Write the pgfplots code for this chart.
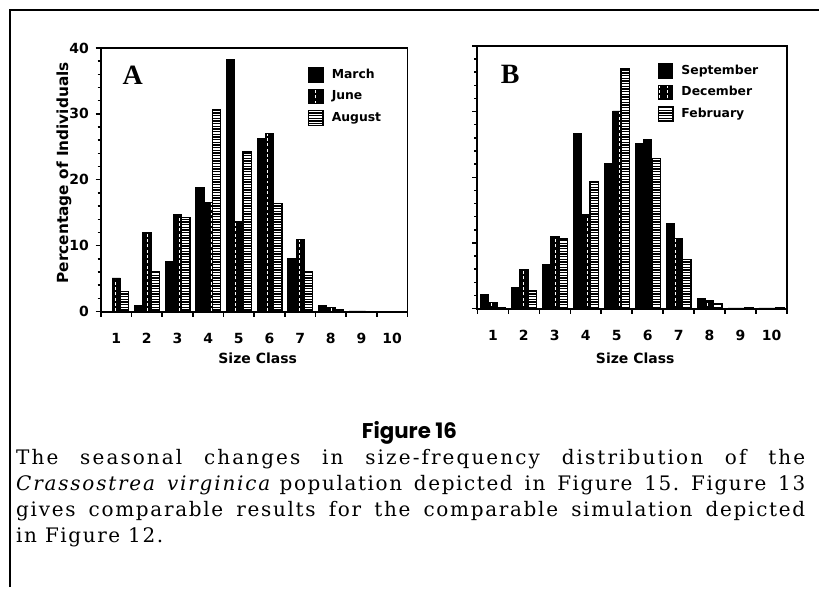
\documentclass[border=0pt]{standalone}
\usepackage{fontspec}
\setmainfont{DejaVu Sans}
\newfontfamily\chartfont{DejaVu Sans}
\newfontfamily\panelfont{Liberation Serif}
\newfontfamily\capfont{DejaVu Serif}
\newfontfamily\figfont{Poppins}
\usepackage{pgfplots}
\pgfplotsset{compat=1.18}
\usetikzlibrary{patterns}

\pgfdeclarepatternformonly{vdash}{\pgfqpoint{-1pt}{-1pt}}{\pgfqpoint{7pt}{5pt}}{\pgfqpoint{6pt}{4pt}}{%
  \pgfsetlinewidth{0.7pt}\pgfpathmoveto{\pgfqpoint{3pt}{0pt}}\pgfpathlineto{\pgfqpoint{3pt}{2.2pt}}\pgfusepath{stroke}}
\pgfdeclarepatternformonly{hdense}{\pgfqpoint{-1pt}{-1pt}}{\pgfqpoint{3pt}{3pt}}{\pgfqpoint{2pt}{2pt}}{%
  \pgfsetlinewidth{1pt}\pgfpathmoveto{\pgfqpoint{-1pt}{1pt}}\pgfpathlineto{\pgfqpoint{3pt}{1pt}}\pgfusepath{stroke}}

\pgfplotstableread{
cls March June August
1 0.0  5.1  3.0
2 1.0  12.0 6.1
3 7.6  14.8 14.3
4 18.8 16.5 30.7
5 38.3 13.7 24.2
6 26.3 27.0 16.4
7 8.1  11.0 6.1
8 0.9  0.6  0.3
9 0.1  0.1  0.05
10 0.05 0.05 0.0
}\dataA
\pgfplotstableread{
cls September December February
1 2.1  1.0  0.2
2 3.2  5.9  2.7
3 6.7  11.0 10.6
4 26.7 14.3 19.4
5 22.1 30.1 36.5
6 25.1 25.8 22.9
7 12.9 10.7 7.5
8 1.6  1.3  0.8
9 0.1  0.1  0.1
10 0.1 0.1  0.1
}\dataB

\pgfplotsset{
  s1/.style={fill=black, draw=black, line width=0.6pt},
  s2/.style={fill=black, draw=black, line width=0.6pt, postaction={pattern=vdash, pattern color=white}},
  s3/.style={draw=black, line width=1pt, pattern=hdense, pattern color=black},
  panel/.style={
    scale only axis,
    anchor=south west,
    xmin=0.5, xmax=10.5, ymin=0, ymax=40,
    xtick={0.5,1.5,...,10.5}, xticklabels={},
    extra x ticks={1,2,...,10},
    extra x tick labels={1,2,3,4,5,6,7,8,9,10},
    extra x tick style={tick style={draw=none}, tick label style={yshift=-9pt}},
    ytick={0,10,20,30,40}, minor y tick num=4,
    tick align=outside, xtick pos=bottom, ytick pos=left,
    major tick length=4pt, minor tick length=2.5pt,
    tick style={line width=1.1pt, black},
    axis line style={line width=1.4pt},
    /pgf/number format/assume math mode=true,
    tick label style={font=\chartfont\bfseries\fontsize{10.5}{12}\selectfont},
    yticklabel style={xshift=-1.5pt},
    ybar, bar width=0.27,
    legend cell align=left,
    legend image code/.code={\draw[##1] (0pt,-5.5pt) rectangle (11pt,5.5pt);},
    legend style={draw=none, fill=none, inner sep=0pt, row sep=4.5pt, column sep=5pt,
      font=\chartfont\bfseries\fontsize{9.3}{11}\selectfont,
      nodes={inner sep=1pt, text height=7pt, text depth=2pt}},
  }
}

\begin{document}
\begin{tikzpicture}
\begin{scope}[x=0.75pt,y=0.75pt]
\path (0,0) rectangle (820,588);
\draw[line width=1.6pt] (10,0) -- (10,578) -- (820,578);
\node[rotate=90, font=\chartfont\bfseries\fontsize{11.5}{13}\selectfont] at (64,415) {Percentage of Individuals};
\node[font=\chartfont\bfseries\fontsize{10.5}{12}\selectfont] at (258,229) {Size Class};
\node[font=\chartfont\bfseries\fontsize{10.5}{12}\selectfont] at (636,229) {Size Class};
\node[font=\figfont\bfseries\fontsize{16}{18}\selectfont] at (410,155) {Figure 16};
\node[anchor=base west, inner sep=0pt, font=\capfont\fontsize{15}{19.5}\selectfont] at (16,123) {%
  \begin{minipage}[t]{592.5pt}\frenchspacing\setlength{\baselineskip}{19.5pt}%
  \makebox[592.5pt][s]{\addfontfeatures{LetterSpace=10.5}The seasonal changes in size-frequency distribution of the}\\
  \makebox[592.5pt][s]{{\itshape\addfontfeatures{LetterSpace=9}Crassostrea virginica} {\addfontfeatures{LetterSpace=8}population depicted in Figure 15. Figure 13}}\\
  \makebox[592.5pt][s]{\addfontfeatures{LetterSpace=8.5}gives comparable results for the comparable simulation depicted}\\
  {\addfontfeatures{LetterSpace=8}in Figure 12.}
  \end{minipage}};
\end{scope}

\begin{axis}[panel, at={(75.75pt,207pt)}, width=230.25pt, height=198pt,
  legend style={at={(rel axis cs:0.674,0.928)}, anchor=north west}]
\addplot[s1, bar shift=-0.27] table[x=cls, y=March] {\dataA};
\addplot[s2, bar shift=0] table[x=cls, y=June] {\dataA};
\addplot[s3, bar shift=0.27] table[x=cls, y=August] {\dataA};
\legend{March, June, August}
\node[font=\panelfont\bfseries\fontsize{21}{24}\selectfont] at (rel axis cs:0.104,0.898) {A};
\end{axis}

\begin{axis}[panel, at={(358.5pt,209.25pt)}, width=232.5pt, height=197.25pt,
  yticklabels={},
  legend style={at={(rel axis cs:0.581,0.935)}, anchor=north west}]
\addplot[s1, bar shift=-0.27] table[x=cls, y=September] {\dataB};
\addplot[s2, bar shift=0] table[x=cls, y=December] {\dataB};
\addplot[s3, bar shift=0.27] table[x=cls, y=February] {\dataB};
\legend{September, December, February}
\node[font=\panelfont\bfseries\fontsize{21}{24}\selectfont] at (rel axis cs:0.106,0.89) {B};
\end{axis}
\end{tikzpicture}
\end{document}
